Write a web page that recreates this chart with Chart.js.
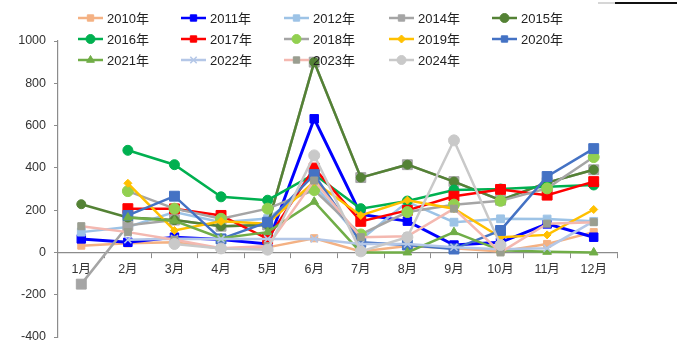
<!DOCTYPE html>
<html>
<head>
<meta charset="utf-8">
<script src="https://cdn.jsdelivr.net/npm/chart.js@4.4.1/dist/chart.umd.min.js"></script>
<style>
  html, body { margin: 0; padding: 0; background: #ffffff; }
  #wrap { position: relative; width: 678px; height: 348px; }
</style>
</head>
<body>
<div id="wrap"><canvas id="c" width="678" height="348"></canvas></div>
<script>
// Month categories and y-axis tick values
const months = ['1月','2月','3月','4月','5月','6月','7月','8月','9月','10月','11月','12月'];
const yTicks = [-400, -200, 0, 200, 400, 600, 800, 1000];

// Monthly values per year
const y2010 = [32, 43, 48, 19, 24, 67, 5, 30, 20, 5, 40, 96];
const y2011 = [64, 48, 72, 61, 40, 632, 180, 148, 35, 48, 135, 72];
const y2012 = [96, 120, 191, 143, 160, 320, 60, 239, 143, 159, 158, 147];
const y2014 = [-150, 128, 153, 124, 130, 900, 354, 415, 335, 247, 330, 391];
const y2015 = [228, 165, 153, 124, 130, 900, 354, 415, 335, 247, 330, 391];
const y2016 = [null, 483, 415, 263, 247, 370, 207, 243, 295, 300, 311, 319];
const y2017 = [null, 207, 206, 175, 64, 399, 147, 199, 266, 298, 271, 335];
const y2018 = [null, 290, 207, 159, 207, 295, 85, 191, 226, 244, 303, 451];
const y2019 = [null, 327, 104, 147, 136, 335, 175, 247, 207, 72, 83, 203];
const y2020 = [null, 175, 266, 64, 143, 368, 48, 35, 16, 104, 359, 491];
const y2021 = [null, 165, 150, 67, 96, 240, 0, 0, 96, 10, 3, 0];
const y2022 = [null, 60, 65, 64, 64, 64, 40, 40, 25, 15, 20, 148];
const y2023 = [124, 96, 60, 20, 30, 340, 72, 76, 207, 0, 136, 143];
const y2024 = [null, null, 40, 19, 13, 459, 5, 72, 530, 35, null, null];

const FONT = "'Liberation Sans', Arial, 'Noto Sans CJK SC', sans-serif";

function series(label, data, line, marker, style, radius, width) {
  return {
    label, data,
    borderColor: line,
    backgroundColor: marker,
    pointBackgroundColor: marker,
    pointBorderColor: marker,
    pointStyle: style,
    pointRadius: radius,
    pointBorderWidth: style === 'crossRot' ? 1.5 : 1,
    borderWidth: width || 2.5,
    spanGaps: false,
    tension: 0
  };
}

const datasets = [
  series('2010年', y2010, '#f4b183', '#f4b183', 'rect', 5),
  series('2011年', y2011, '#0000ff', '#0000ff', 'rect', 6, 3),
  series('2012年', y2012, '#9dc3e6', '#9dc3e6', 'rect', 5.5),
  series('2014年', y2014, '#a5a5a5', '#a5a5a5', 'rect', 7),
  series('2015年', y2015, '#548235', '#548235', 'circle', 4.5),
  series('2016年', y2016, '#00b050', '#00b050', 'circle', 5),
  series('2017年', y2017, '#ff0000', '#ff0000', 'rect', 7),
  series('2018年', y2018, '#a5a5a5', '#92d050', 'circle', 5.5),
  series('2019年', y2019, '#ffc000', '#ffc000', 'rectRot', 4),
  series('2020年', y2020, '#4472c4', '#4472c4', 'rect', 7),
  series('2021年', y2021, '#70ad47', '#70ad47', 'triangle', 5),
  series('2022年', y2022, '#b4c7e7', '#b4c7e7', 'crossRot', 5),
  series('2023年', y2023, '#f4b8b0', '#9a9e90', 'rect', 5),
  series('2024年', y2024, '#c9c9c9', '#c9c9c9', 'circle', 5.5)
];
// later years are painted over earlier ones
datasets.forEach((d, i) => { d.order = datasets.length - i; });

// Legend drawn inside the plot, five entries per row
const legendPlugin = {
  id: 'gridLegend',
  afterDraw(chart) {
    const ctx = chart.ctx;
    const cols = [78, 181, 284, 389, 492];
    const rows = [18, 39, 60];
    ctx.save();
    chart.data.datasets.forEach((ds, i) => {
      const x = cols[i % 5];
      const y = rows[Math.floor(i / 5)];
      ctx.strokeStyle = ds.borderColor;
      ctx.lineWidth = 2.5;
      ctx.beginPath();
      ctx.moveTo(x, y);
      ctx.lineTo(x + 25, y);
      ctx.stroke();
      ctx.fillStyle = ds.pointBackgroundColor;
      ctx.strokeStyle = ds.pointBorderColor;
      ctx.lineWidth = ds.pointBorderWidth;
      Chart.helpers.drawPoint(ctx, {
        pointStyle: ds.pointStyle,
        rotation: 0,
        radius: Math.min(ds.pointRadius, 4.5),
        borderWidth: ds.pointBorderWidth
      }, x + 12.5, y);
      ctx.fillStyle = '#222222';
      ctx.font = '13px ' + FONT;
      ctx.textBaseline = 'middle';
      ctx.textAlign = 'left';
      ctx.fillText(ds.label, x + 29, y + 1);
    });
    // thin frame stroke at the top right corner
    ctx.strokeStyle = '#c8c8c8';
    ctx.lineWidth = 1.5;
    ctx.beginPath(); ctx.moveTo(598, 3); ctx.lineTo(615, 3); ctx.stroke();
    ctx.strokeStyle = '#111111';
    ctx.lineWidth = 2;
    ctx.beginPath(); ctx.moveTo(615, 3); ctx.lineTo(677, 3); ctx.stroke();
    ctx.restore();
  }
};

new Chart(document.getElementById('c'), {
  type: 'line',
  data: { labels: months, datasets },
  options: {
    responsive: false,
    animation: false,
    events: [],
    layout: { padding: { left: 0, right: 61, top: 41, bottom: 11 } },
    plugins: { legend: { display: false }, tooltip: { enabled: false } },
    scales: {
      x: {
        position: { y: 0 },
        offset: true,
        afterFit(scale) { scale.height = 0; },
        grid: {
          display: true,
          drawOnChartArea: false,
          drawTicks: true,
          tickLength: 5,
          offset: true,
          color: '#8c8c8c',
          lineWidth: 1
        },
        border: { display: true, color: '#8c8c8c', width: 1.2 },
        ticks: {
          color: '#333333',
          font: { family: FONT, size: 12.5 },
          padding: 5,
          maxRotation: 0,
          autoSkip: false
        }
      },
      y: {
        min: -400,
        max: 1000,
        afterBuildTicks(scale) { scale.ticks = yTicks.map(v => ({ value: v })); },
        afterFit(scale) { scale.width = 58; scale.paddingTop = 0; scale.paddingBottom = 0; },
        grid: {
          display: true,
          drawOnChartArea: false,
          drawTicks: true,
          tickLength: 4,
          color: '#8c8c8c'
        },
        border: { display: true, color: '#8c8c8c', width: 1.2 },
        ticks: {
          color: '#333333',
          font: { family: FONT, size: 12.5 },
          padding: 8,
          callback: v => String(v)
        }
      }
    }
  },
  plugins: [legendPlugin]
});
</script>
</body>
</html>
